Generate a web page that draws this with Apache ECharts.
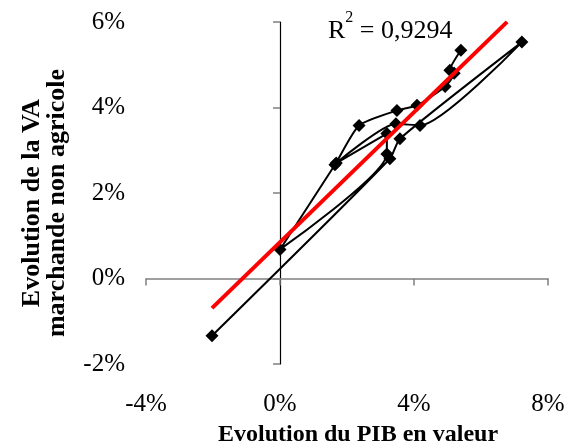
<!DOCTYPE html>
<html>
<head>
<meta charset="utf-8">
<script src="https://cdn.jsdelivr.net/npm/echarts@6/dist/echarts.min.js"></script>
<style>
  html, body { margin: 0; padding: 0; background: #fff; }
  #chart { width: 570px; height: 448px; }
</style>
</head>
<body>
<div id="chart"></div>
<script>
// Evolution du PIB en valeur (x, %) vs evolution de la VA marchande non agricole (y, %)
// points listed in the order the curve joins them
const pibGrowth = [-2.03, 3.28, 3.58, 7.22, 4.18, 3.46, 1.68, 3.19, 3.19, 0.00, 1.64, 2.36, 3.49, 4.09, 4.93, 5.20, 5.07, 5.40];
const vaGrowth  = [-1.34, 2.80, 3.27, 5.53, 3.58, 3.62, 2.70, 3.39, 2.91, 0.68, 2.66, 3.58, 3.93, 4.05, 4.49, 4.80, 4.87, 5.34];

// linear trend (Excel style), drawn across the data x-range, clipped at 6%
const trendSlope = 0.76;
const trendIntercept = 0.85;
const trendX = [-2.03, 6.78];
const rSquared = '0,9294';

const xTicks = { min: -4, max: 8, interval: 4 };
const yTicks = { min: -2, max: 6, interval: 2 };

const serif = '"Liberation Serif", "DejaVu Serif", serif';

const chart = echarts.init(document.getElementById('chart'), null, { renderer: 'canvas' });

const pts = pibGrowth.map((x, i) => [x, vaGrowth[i]]);
const trend = trendX.map(x => [x, +(trendIntercept + trendSlope * x).toFixed(3)]);

chart.setOption({
    animation: false,
    backgroundColor: '#fff',
    grid: { left: 146, right: 22, top: 22, bottom: 84 },
    xAxis: [
        {
            type: 'value', min: xTicks.min, max: xTicks.max, interval: xTicks.interval,
            axisLine: { onZero: true, lineStyle: { color: '#808080', width: 1.5 } },
            axisTick: { show: true, length: 7, lineStyle: { color: '#808080', width: 1.5 } },
            axisLabel: { show: false },
            splitLine: { show: false },
        },
        {
            type: 'value', min: xTicks.min, max: xTicks.max, interval: xTicks.interval,
            position: 'bottom',
            axisLine: { show: false, onZero: false },
            axisTick: { show: false },
            axisLabel: { formatter: '{value}%', color: '#000', fontFamily: serif, fontSize: 25, margin: 28 },
            splitLine: { show: false },
        },
    ],
    yAxis: [
        {
            type: 'value', min: yTicks.min, max: yTicks.max, interval: yTicks.interval,
            axisLine: { onZero: true, lineStyle: { color: '#000', width: 1.2 } },
            axisTick: { show: true, length: 7, lineStyle: { color: '#808080', width: 1.5 } },
            axisLabel: { show: false },
            splitLine: { show: false },
        },
        {
            type: 'value', min: yTicks.min, max: yTicks.max, interval: yTicks.interval,
            position: 'left',
            axisLine: { show: false, onZero: false },
            axisTick: { show: false },
            axisLabel: { formatter: '{value}%', color: '#000', fontFamily: serif, fontSize: 25, margin: 21 },
            splitLine: { show: false },
        },
    ],
    series: [
        {
            name: 'VA',
            type: 'line',
            xAxisIndex: 0,
            yAxisIndex: 0,
            data: pts,
            smooth: 0.2,
            symbol: 'diamond',
            symbolSize: 13,
            itemStyle: { color: '#000' },
            lineStyle: { color: '#000', width: 2 },
            z: 3,
        },
        {
            name: 'Tendance',
            type: 'line',
            xAxisIndex: 0,
            yAxisIndex: 0,
            data: trend,
            showSymbol: false,
            lineStyle: { color: '#ff0000', width: 4 },
            z: 4,
        },
    ],
    graphic: [
        {
            type: 'text', left: 328, top: 10,
            style: {
                text: '{r|R}{s|2}{r| = ' + rSquared + '}',
                rich: {
                    r: { fontFamily: serif, fontSize: 26, fill: '#000', verticalAlign: 'bottom', lineHeight: 34 },
                    s: { fontFamily: serif, fontSize: 16, fill: '#000', verticalAlign: 'top', lineHeight: 34 },
                },
            },
        },
        {
            type: 'text', x: 358, y: 435,
            style: {
                text: 'Evolution du PIB en valeur',
                fontFamily: serif, fontSize: 24, fontWeight: 'bold', fill: '#000',
                textAlign: 'center', textVerticalAlign: 'middle',
            },
        },
        {
            type: 'text', x: 45, y: 203, rotation: Math.PI / 2,
            style: {
                text: 'Evolution de la VA\nmarchande non agricole',
                fontFamily: serif, fontSize: 26, fontWeight: 'bold', fill: '#000',
                lineHeight: 25, textAlign: 'center', textVerticalAlign: 'middle',
            },
        },
    ],
});
</script>
</body>
</html>
